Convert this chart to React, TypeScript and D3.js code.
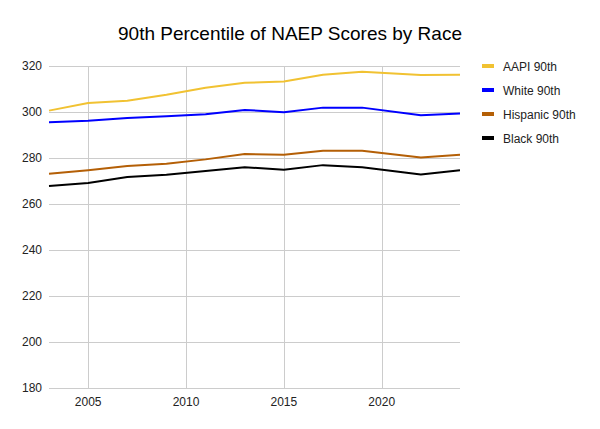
import React from "react";
import * as d3 from "d3";

const years = [2003, 2005, 2007, 2009, 2011, 2013, 2015, 2017, 2019, 2022, 2024];
const aapi = [300.6, 303.9, 304.9, 307.5, 310.5, 312.7, 313.3, 316.2, 317.5, 316.1, 316.2];
const white = [295.5, 296.2, 297.4, 298.1, 299.0, 300.9, 299.9, 301.9, 301.9, 298.6, 299.4];
const hispanic = [273.1, 274.7, 276.5, 277.5, 279.4, 281.7, 281.4, 283.2, 283.2, 280.2, 281.4];
const black = [267.8, 269.1, 271.7, 272.7, 274.4, 276.0, 274.9, 276.9, 276.0, 272.8, 274.7];
const seriesNames = ["AAPI 90th", "White 90th", "Hispanic 90th", "Black 90th"];
const seriesColors = ["#f1c232", "#0000ff", "#b45f06", "#000000"];
const yTicks = [180, 200, 220, 240, 260, 280, 300, 320];
const xTicks = [2005, 2010, 2015, 2020];

const W = 600;
const H = 429;
const margin = { top: 66, right: 140, bottom: 41, left: 49 };
const font = "'Liberation Sans', Arial, sans-serif";

export default function App() {
    const x = d3.scaleLinear().domain([2003, 2024]).range([margin.left, W - margin.right]);
    const y = d3.scaleLinear().domain([180, 320]).range([H - margin.bottom, margin.top]);
    const allSeries = [aapi, white, hispanic, black];

    const line = d3.line<number>()
        .x((_, i) => x(years[i]))
        .y(d => y(d));

    return (
        <svg width={W} height={H} style={{ position: "absolute", left: 0, top: 0, background: "#fff" }}>
            <rect width={W} height={H} fill="#fff" />
            <text x={290} y={40} textAnchor="middle" fontFamily={font} fontSize={19} fill="#000">
                90th Percentile of NAEP Scores by Race
            </text>
            {/* grid */}
            <g stroke="#cccccc" strokeWidth={1}>
                {yTicks.map(t => (
                    <line key={"y" + t} x1={x(2003)} x2={x(2024)} y1={Math.round(y(t)) + 0.5} y2={Math.round(y(t)) + 0.5} />
                ))}
                {xTicks.map(t => (
                    <line key={"x" + t} x1={Math.round(x(t)) + 0.5} x2={Math.round(x(t)) + 0.5} y1={y(320)} y2={y(180)} />
                ))}
            </g>
            {/* axis labels */}
            <g fontFamily={font} fontSize={12} fill="#222">
                {yTicks.map(t => (
                    <text key={"yl" + t} x={42} y={y(t) + 4} textAnchor="end">{t}</text>
                ))}
                {xTicks.map(t => (
                    <text key={"xl" + t} x={x(t)} y={y(180) + 18} textAnchor="middle">{t}</text>
                ))}
            </g>
            {/* lines */}
            <g fill="none" strokeWidth={2} strokeLinejoin="round">
                {allSeries.map((s, i) => (
                    <path key={seriesNames[i]} d={line(s) || ""} stroke={seriesColors[i]} />
                ))}
            </g>
            {/* legend */}
            <g fontFamily={font} fontSize={12} fill="#222">
                {seriesNames.map((n, i) => (
                    <g key={n} transform={`translate(482,${66 + i * 24})`}>
                        <rect x={0} y={-2} width={12} height={4} fill={seriesColors[i]} />
                        <text x={21} y={4.5}>{n}</text>
                    </g>
                ))}
            </g>
        </svg>
    );
}
